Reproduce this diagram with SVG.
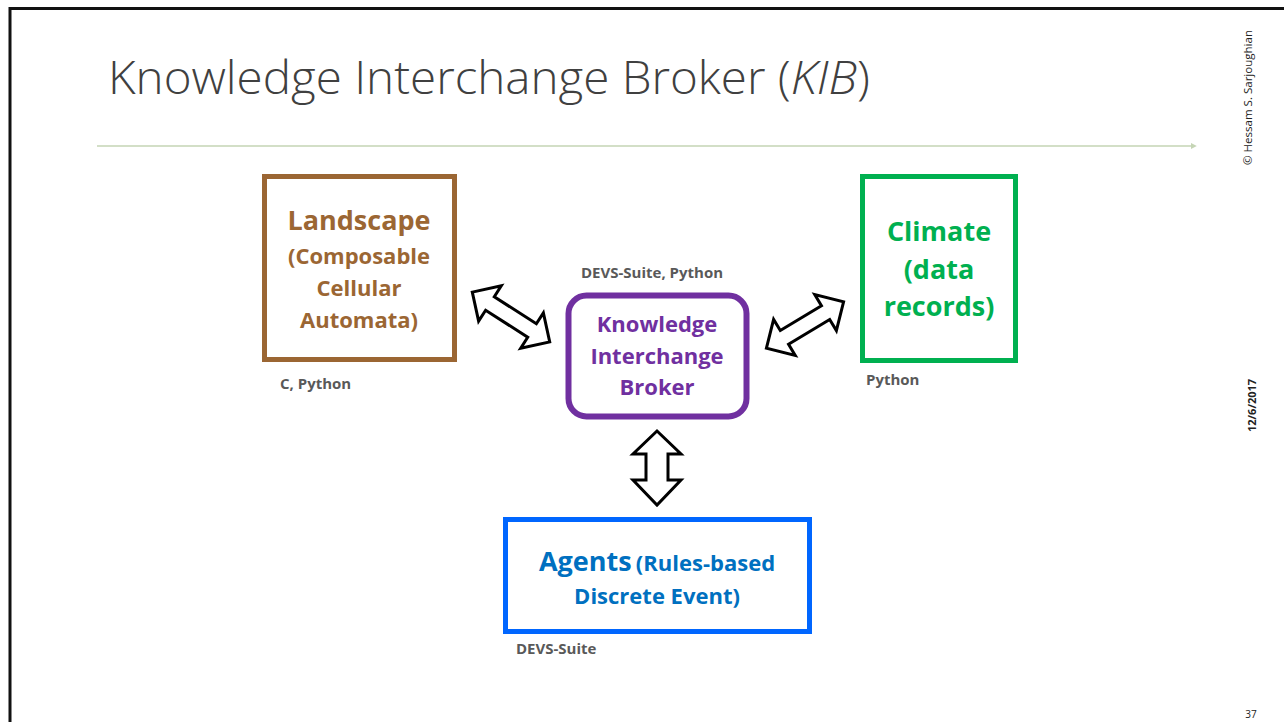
<svg xmlns="http://www.w3.org/2000/svg" width="1284" height="722" viewBox="0 0 1284 722">
<style>
.lbl{font-family:"Open Sans","Liberation Sans",sans-serif;font-weight:bold;font-size:15px;fill:#595959}
.t{font-family:"Open Sans","Liberation Sans",sans-serif;font-weight:bold;text-anchor:middle}
.arr{fill:#fff;stroke:#000;stroke-width:3;stroke-linejoin:miter}
</style>
<defs>
<marker id="ah" viewBox="0 0 10 10" refX="2" refY="5" markerWidth="4" markerHeight="4" orient="auto">
<path d="M0,0 L10,5 L0,10 Z" fill="#c5d5b5"/>
</marker>
</defs>
<rect width="1284" height="722" fill="#fff"/>
<path d="M10,722 V8.5 H1284" fill="none" stroke="#111" stroke-width="3"/>
<text x="108" y="94" font-family="Open Sans, Liberation Sans, sans-serif" font-weight="300" font-size="46" fill="#404040" textLength="762" lengthAdjust="spacingAndGlyphs">Knowledge Interchange Broker (<tspan font-style="italic">KIB</tspan>)</text>
<line x1="97" y1="146" x2="1192" y2="146" stroke="#c5d5b5" stroke-width="1.5" marker-end="url(#ah)"/>
<text transform="translate(1252,165) rotate(-90)" font-family="Open Sans, Liberation Sans, sans-serif" font-size="10.5" fill="#222" textLength="135" lengthAdjust="spacingAndGlyphs">© Hessam S. Sarjoughian</text>
<text transform="translate(1256,432) rotate(-90)" font-family="Open Sans, Liberation Sans, sans-serif" font-weight="bold" font-size="11" fill="#222">12/6/2017</text>
<text x="1251" y="718" font-family="Open Sans, Liberation Sans, sans-serif" font-size="10" fill="#222" text-anchor="middle">37</text>

<g id="connectors">
<polygon class="arr" transform="translate(511,317) rotate(32.7)" points="-46,0 -25,-21 -25,-8 25,-8 25,-21 46,0 25,21 25,8 -25,8 -25,21"/>
<polygon class="arr" transform="translate(805,325) rotate(-31)" points="-45,0 -24,-21 -24,-8 24,-8 24,-21 45,0 24,21 24,8 -24,8 -24,21"/>
<polygon class="arr" points="657,431 681,454 668,454 668,480 681,480 657,505 633,480 646,480 646,454 633,454"/>
</g>

<g id="landscape">
<rect x="264.5" y="176.5" width="190" height="183" fill="#fff" stroke="#9b6633" stroke-width="5"/>
<text class="t" fill="#9b6633" x="359" y="230" font-size="27">Landscape</text>
<text class="t" fill="#9b6633" x="359" y="264" font-size="22">(Composable</text>
<text class="t" fill="#9b6633" x="359" y="296" font-size="22">Cellular</text>
<text class="t" fill="#9b6633" x="359" y="328" font-size="22">Automata)</text>
<text class="lbl" x="280" y="389">C, Python</text>
</g>

<g id="climate">
<rect x="862.5" y="176.5" width="153" height="184" fill="#fff" stroke="#00b050" stroke-width="5"/>
<text class="t" fill="#00b050" x="939" y="241" font-size="27">Climate</text>
<text class="t" fill="#00b050" x="939" y="279" font-size="27">(data</text>
<text class="t" fill="#00b050" x="939" y="316" font-size="27">records)</text>
<text class="lbl" x="866" y="385">Python</text>
</g>

<g id="kib">
<rect x="568.5" y="295.5" width="178" height="121" rx="18" fill="#fff" stroke="#7030a0" stroke-width="6"/>
<text class="t" fill="#7030a0" x="657" y="332" font-size="22">Knowledge</text>
<text class="t" fill="#7030a0" x="657" y="364" font-size="22">Interchange</text>
<text class="t" fill="#7030a0" x="657" y="395" font-size="22">Broker</text>
<text class="lbl" x="652" y="278" text-anchor="middle">DEVS-Suite, Python</text>
</g>

<g id="agents">
<rect x="505.5" y="519.5" width="304" height="112" fill="#fff" stroke="#0066ff" stroke-width="5"/>
<text class="t" fill="#0070c0" x="657" y="571"><tspan font-size="27">Agents</tspan> <tspan font-size="22">(Rules-based</tspan></text>
<text class="t" fill="#0070c0" x="657" y="604" font-size="22">Discrete Event)</text>
<text class="lbl" x="516" y="654">DEVS-Suite</text>
</g>
</svg>
